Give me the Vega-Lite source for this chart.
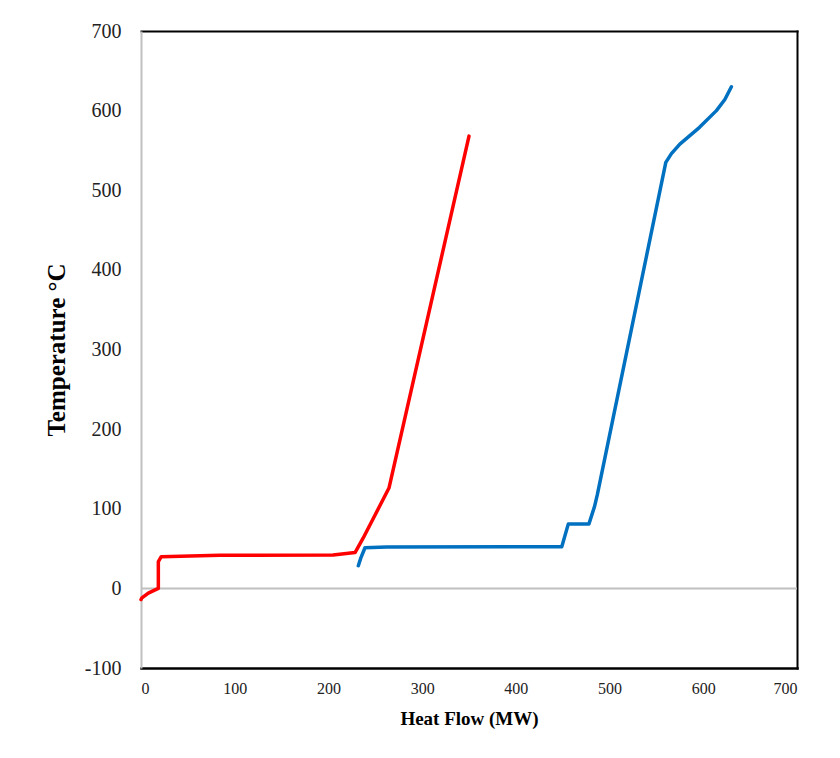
{
  "$schema": "https://vega.github.io/schema/vega-lite/v6.json",
  "width": 656,
  "height": 637,
  "autosize": {"type": "none"},
  "padding": {"left": 141, "top": 31, "right": 43, "bottom": 90},
  "background": "white",
  "config": {
    "view": {"stroke": null},
    "font": "Liberation Serif"
  },
  "datasets": {
    "curves": [
      {"series": "hot", "order": 1, "q": 0, "t": -14},
      {"series": "hot", "order": 2, "q": 1, "t": -12},
      {"series": "hot", "order": 3, "q": 7.8, "t": -6},
      {"series": "hot", "order": 4, "q": 18.5, "t": 0},
      {"series": "hot", "order": 5, "q": 18.5, "t": 33.5},
      {"series": "hot", "order": 6, "q": 21.6, "t": 39.8},
      {"series": "hot", "order": 7, "q": 84, "t": 41.5},
      {"series": "hot", "order": 8, "q": 205, "t": 42},
      {"series": "hot", "order": 9, "q": 228.4, "t": 45},
      {"series": "hot", "order": 10, "q": 237, "t": 63},
      {"series": "hot", "order": 11, "q": 264.6, "t": 126},
      {"series": "hot", "order": 12, "q": 350, "t": 568},
      {"series": "cold", "order": 1, "q": 231.9, "t": 28.5},
      {"series": "cold", "order": 2, "q": 234.5, "t": 38},
      {"series": "cold", "order": 3, "q": 239, "t": 51},
      {"series": "cold", "order": 4, "q": 262, "t": 52},
      {"series": "cold", "order": 5, "q": 449, "t": 52.4},
      {"series": "cold", "order": 6, "q": 456, "t": 81},
      {"series": "cold", "order": 7, "q": 478, "t": 81},
      {"series": "cold", "order": 8, "q": 484, "t": 103},
      {"series": "cold", "order": 9, "q": 487, "t": 118},
      {"series": "cold", "order": 10, "q": 560, "t": 535},
      {"series": "cold", "order": 11, "q": 566, "t": 546},
      {"series": "cold", "order": 12, "q": 575, "t": 558},
      {"series": "cold", "order": 13, "q": 596, "t": 579},
      {"series": "cold", "order": 14, "q": 614, "t": 600},
      {"series": "cold", "order": 15, "q": 623, "t": 614},
      {"series": "cold", "order": 16, "q": 630, "t": 630}
    ],
    "zero": [{"q": 0, "t": 0}]
  },
  "resolve": {"axis": {"x": "independent", "y": "independent"}},
  "layer": [
    {
      "data": {"name": "zero"},
      "mark": {"type": "rule", "color": "#c0c0c0", "strokeWidth": 2},
      "encoding": {
        "y": {"field": "t", "type": "quantitative", "axis": null}
      }
    },
    {
      "data": {"name": "zero"},
      "mark": {"type": "point", "opacity": 0},
      "encoding": {
        "x": {
          "field": "q", "type": "quantitative",
          "axis": {"orient": "top", "labels": false, "ticks": false, "grid": false, "title": null,
                   "domain": true, "domainColor": "#000", "domainWidth": 2, "domainCap": "square"}
        },
        "y": {
          "field": "t", "type": "quantitative",
          "axis": {"orient": "right", "labels": false, "ticks": false, "grid": false, "title": null,
                   "domain": true, "domainColor": "#000", "domainWidth": 2, "domainCap": "square"}
        }
      }
    },
    {
      "data": {"name": "curves"},
      "mark": {"type": "line", "strokeWidth": 3.5, "strokeCap": "round", "strokeJoin": "round"},
      "encoding": {
        "x": {
          "field": "q", "type": "quantitative",
          "scale": {"domain": [0, 700], "nice": false},
          "axis": {
            "title": "Heat Flow (MW)", "values": [0,100,200,300,400,500,600,700],
            "grid": false, "ticks": false, "domain": true, "domainColor": "#000", "domainWidth": 2.5, "domainCap": "square",
            "labelFont": "Liberation Serif", "labelFontSize": 16, "labelColor": "#222",
            "labelPadding": 12,
            "titleFont": "Liberation Serif", "titleFontSize": 19, "titleFontWeight": "bold",
            "titleColor": "#000", "titlePadding": 13
          }
        },
        "y": {
          "field": "t", "type": "quantitative",
          "scale": {"domain": [-100, 700], "nice": false, "zero": false},
          "axis": {
            "title": "Temperature °C", "values": [-100,0,100,200,300,400,500,600,700],
            "labelExpr": "'' + datum.value",
            "grid": false, "ticks": false, "domain": true, "domainColor": "#c0c0c0", "domainWidth": 2,
            "labelFont": "Liberation Serif", "labelFontSize": 20, "labelColor": "#222",
            "labelPadding": 20,
            "titleFont": "Liberation Serif", "titleFontSize": 25, "titleFontWeight": "bold",
            "titleColor": "#000", "titlePadding": 15
          }
        },
        "color": {
          "field": "series", "type": "nominal",
          "scale": {"domain": ["hot", "cold"], "range": ["#ff0000", "#0070c0"]},
          "legend": null
        },
        "order": {"field": "order", "type": "quantitative"}
      }
    }
  ]
}
